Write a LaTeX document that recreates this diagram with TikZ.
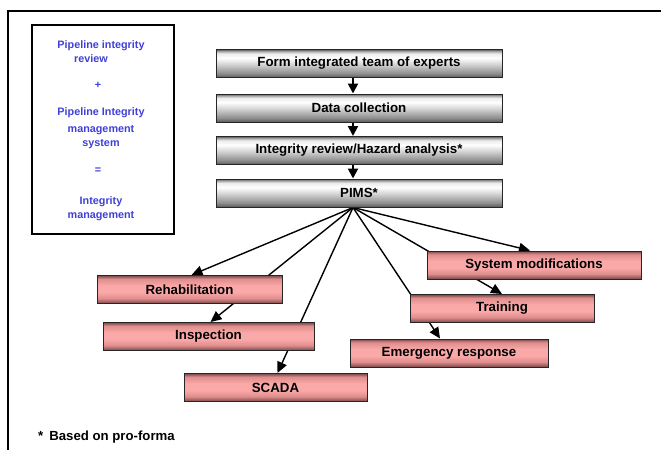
\documentclass[tikz,border=0pt]{standalone}
\usepackage{fontspec}
\setmainfont{Liberation Sans}
\usetikzlibrary{arrows.meta,backgrounds}

\definecolor{pinklight}{RGB}{250,168,168}
\definecolor{pinkmid}{RGB}{222,140,140}
\definecolor{pinkdark}{RGB}{120,72,72}
\definecolor{noteblue}{RGB}{64,64,214}

% shadings: 25bp = bottom edge, 75bp = top edge
\pgfdeclareverticalshading{steelbar}{100bp}{color(0bp)=(black!65); color(25bp)=(black!65);
  color(32bp)=(black!45); color(48bp)=(black!18); color(60bp)=(white); color(68bp)=(black!8);
  color(72bp)=(black!35); color(75bp)=(black!65); color(100bp)=(black!65)}
\pgfdeclareverticalshading{rosebar}{100bp}{color(0bp)=(pinkdark); color(25bp)=(pinkdark);
  color(34bp)=(pinkmid); color(45bp)=(pinklight); color(57bp)=(pinklight); color(69bp)=(pinkmid);
  color(75bp)=(pinkdark); color(100bp)=(pinkdark)}

\tikzset{
  stepbar/.style={draw=black!85, line width=1pt, shading=steelbar, minimum width=286pt,
    minimum height=28pt, inner sep=0pt, font=\fontsize{13.3}{16}\selectfont\bfseries},
  taskbar/.style={draw=black!85, line width=1pt, shading=rosebar, minimum height=28pt,
    inner sep=0pt, font=\fontsize{13.3}{16}\selectfont\bfseries},
  bluenote/.style={text=noteblue, align=center, inner sep=0pt,
    font=\fontsize{10.8}{14}\selectfont\bfseries},
  flow/.style={-{Triangle[length=10pt,width=10pt]}, line width=2pt},
  fan/.style={-{Triangle[length=11pt,width=10pt]}, line width=1.4pt}
}

\begin{document}
\begin{tikzpicture}[x=1pt, y=-1pt]
\useasboundingbox (0,0) rectangle (661,450);

% frame and legend box
\draw[line width=1.6pt] (8,450) -- (8,11) -- (661,11);
\node (legend) [draw, line width=1.6pt, minimum width=142pt, minimum height=209pt,
  inner sep=0pt] at (103,129.5) {};
\node (lgreview) [bluenote] at (101,52) {Pipeline integrity\\review\hspace*{20pt}};
\node (lgplus) [bluenote] at (98,85) {+};
\node (lgpims) [bluenote] at (101,128) {Pipeline Integrity\\[3pt]management\\system};
\node (lgequal) [bluenote] at (98,171) {=};
\node (lgresult) [bluenote] at (101,208.5) {Integrity\\management};

% main steps
\node (team) [stepbar] at (359,63.5) {Form integrated team of experts};
\node (data) [stepbar] at (359,108) {Data collection};
\node (hazard) [stepbar] at (359,150.5) {Integrity review/Hazard analysis*};
\node (pims) [stepbar] at (359,193) {PIMS*};

% programme items
\node (sysmod) [taskbar, minimum width=214pt] at (534,265) {System modifications};
\node (rehab) [taskbar, minimum width=185pt] at (189.5,289.5) {Rehabilitation};
\node (training) [taskbar, minimum width=184pt] at (502,308.5) {Training};
\node (inspect) [taskbar, minimum width=211pt] at (208.5,336.5) {Inspection};
\node (emergency) [taskbar, minimum width=198pt] at (449,353) {Emergency response};
\node (scada) [taskbar, minimum width=183pt] at (275.5,387.5) {SCADA};

\node (note) [anchor=west, inner sep=0pt, font=\fontsize{13.2}{16}\selectfont\bfseries]
  at (38,437) {*\hspace{6pt}Based on pro-forma};

\coordinate (hub) at ([xshift=-6pt]pims.south);

\draw[flow] ([xshift=-6pt]team.south) -- ([xshift=-6pt]data.north);
\draw[flow] ([xshift=-6pt]data.south) -- ([xshift=-6pt]hazard.north);
\draw[flow] ([xshift=-6pt]hazard.south) -- ([xshift=-6pt]pims.north);

% fan lines run behind the item boxes
\begin{scope}[on background layer]
\fill[white] (0,0) rectangle (661,450);
\draw[fan] (hub) -- ([xshift=2pt]rehab.north);
\draw[fan] (hub) -- ([xshift=2pt]inspect.north);
\draw[fan] (hub) -- ([xshift=2pt]scada.north);
\draw[fan] (hub) -- ([xshift=-9pt]emergency.north);
\draw[fan] (hub) -- (training.north);
\draw[fan] (hub) -- ([xshift=-4pt]sysmod.north);
\end{scope}

\end{tikzpicture}
\end{document}
